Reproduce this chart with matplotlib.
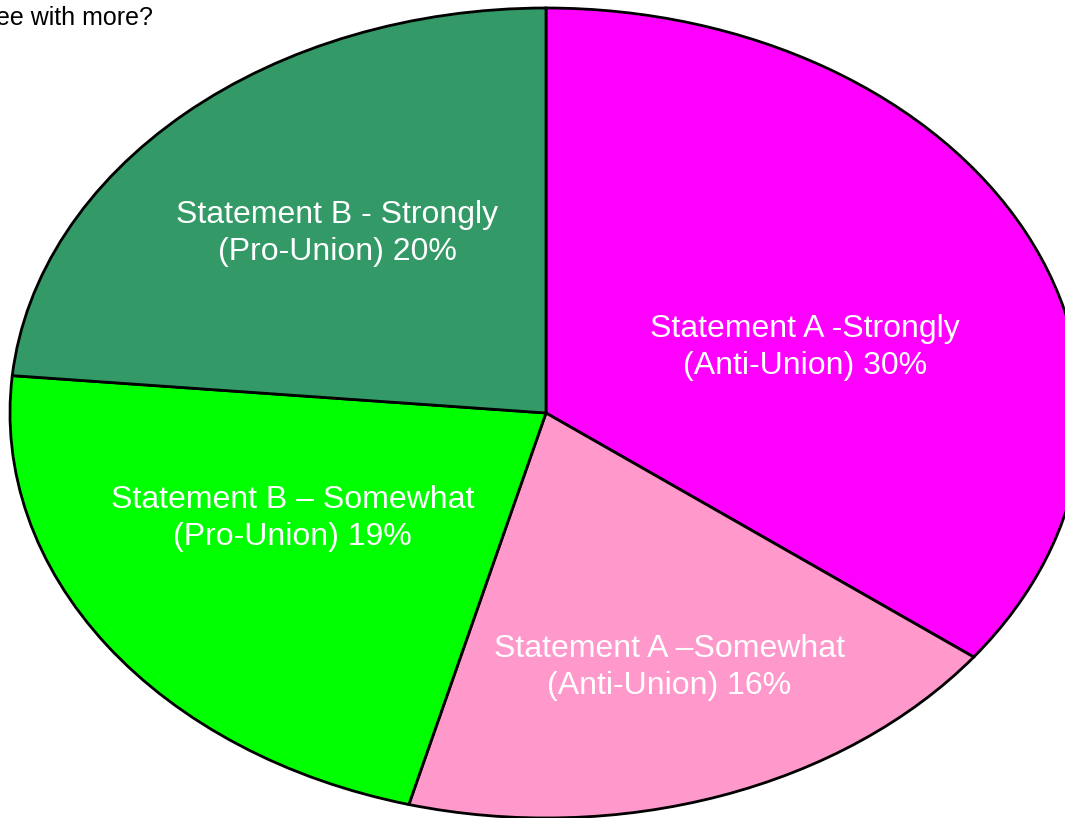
import numpy as np
import matplotlib
matplotlib.use('Agg')
import matplotlib.pyplot as plt

# slice data, clockwise from 12 o'clock
labels = ['Statement A -Strongly\n(Anti-Union) 30%',
          'Statement A \u2013Somewhat\n(Anti-Union) 16%',
          'Statement B \u2013 Somewhat\n(Pro-Union) 19%',
          'Statement B - Strongly\n(Pro-Union) 20%']
values = [30, 16, 19, 20]
colors = ['#FF00FF', '#FF99CC', '#00FF00', '#339966']

title = 'ee with more?'

# where the label sits inside each slice (radius, angle shift in deg)
lab_r = [0.51, 0.67, 0.54, 0.59]
lab_shift = [-8, 1, -6, -1]

W, H = 1065, 818
cx, cy = 546, 413     # pie centre in pixels
rx, ry = 536, 405     # stretched radii in pixels

fig = plt.figure(figsize=(W / 100, H / 100), dpi=100)
ax = fig.add_axes([0, 0, 1, 1])

wedges, _ = ax.pie(values, colors=colors, startangle=90, counterclock=False,
                   wedgeprops=dict(edgecolor='black', linewidth=2.0))

ax.set_aspect('auto')
ax.set_xlim(-cx / rx, (W - cx) / rx)
ax.set_ylim((cy - H) / ry, cy / ry)
ax.axis('off')

for w, lab, r, sh in zip(wedges, labels, lab_r, lab_shift):
    mid = np.deg2rad((w.theta1 + w.theta2) / 2 + sh)
    ax.text(r * np.cos(mid), r * np.sin(mid), lab, ha='center', va='center',
            color='white', fontsize=23, family='Liberation Sans',
            linespacing=1.3)

fig.text(-4 / W, 1 - 25 / H, title, ha='left', va='baseline',
         fontsize=18, family='Liberation Sans', color='black')

fig.savefig('out.png', dpi=100)
